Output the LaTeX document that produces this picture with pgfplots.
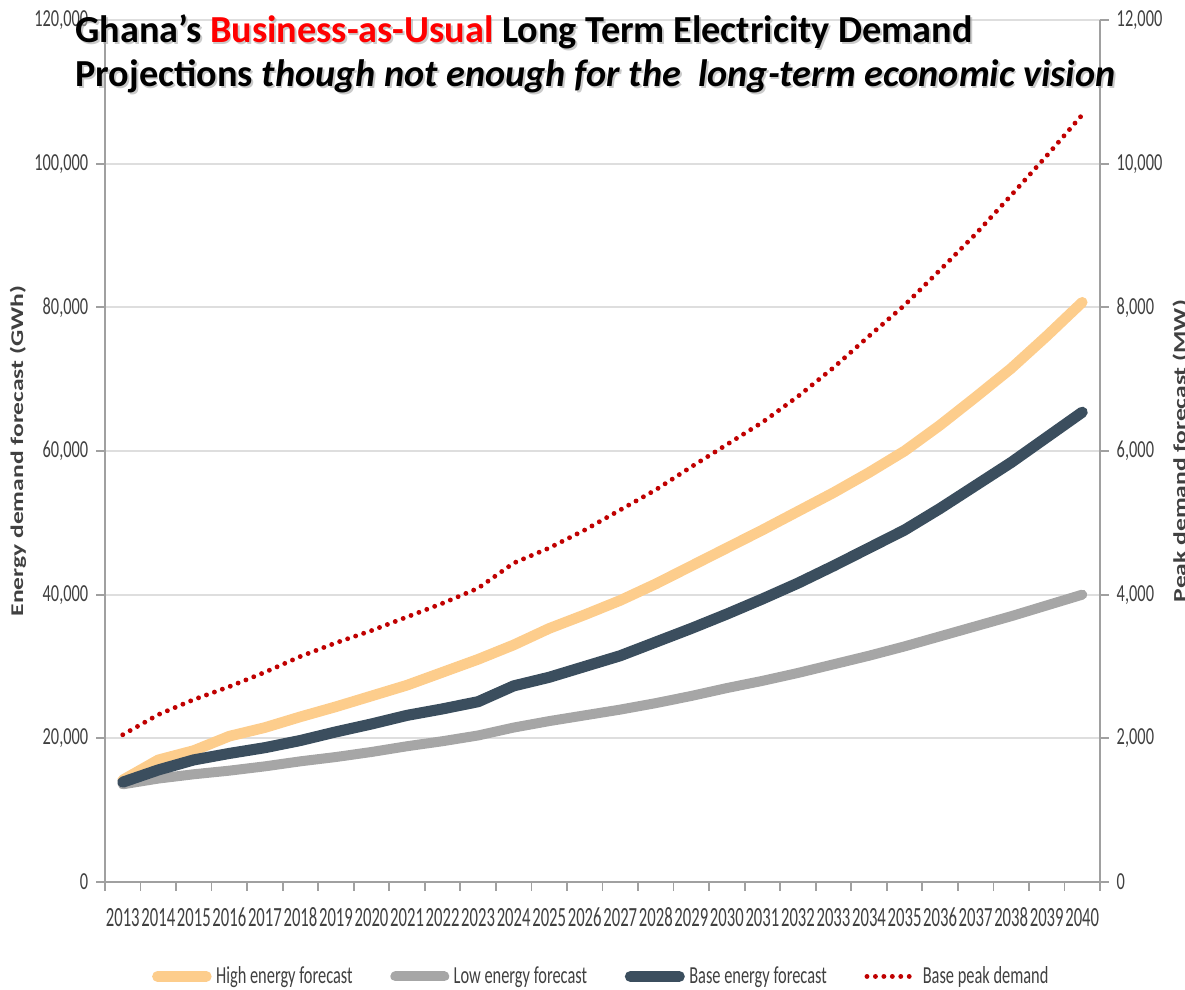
\documentclass[border=0pt]{standalone}
\usepackage{fontspec}
\usepackage{graphicx}
\usepackage{pgfplots}
\usepackage{pgfplotstable}
\pgfplotsset{compat=1.18}
\setmainfont{Carlito}
\newfontfamily\narrowfont[FakeStretch=0.67]{Carlito}
\newfontfamily\yearfont[FakeStretch=0.6]{Carlito}

\definecolor{highc}{RGB}{253,205,140}
\definecolor{lowc}{RGB}{166,166,166}
\definecolor{basec}{RGB}{59,78,94}
\definecolor{peakc}{RGB}{192,0,0}
\definecolor{gridc}{RGB}{222,222,222}
\definecolor{axisc}{RGB}{160,160,160}
\definecolor{labelc}{RGB}{64,64,64}
\definecolor{titlered}{RGB}{255,0,0}

% Energy demand forecasts (GWh) and base peak demand (MW), 2013-2040
\pgfplotstableread{
idx year high low base peak
0 2013 14200 13600 13900 2050
1 2014 17000 14400 15600 2330
2 2015 18300 15000 17000 2540
3 2016 20300 15500 17900 2720
4 2017 21500 16100 18700 2920
5 2018 23000 16800 19700 3140
6 2019 24400 17400 20900 3330
7 2020 25900 18100 22000 3500
8 2021 27400 18900 23200 3690
9 2022 29200 19600 24100 3880
10 2023 31000 20400 25100 4090
11 2024 33000 21500 27300 4440
12 2025 35300 22400 28500 4650
13 2026 37200 23200 30000 4900
14 2027 39200 24000 31500 5180
15 2028 41500 24900 33400 5460
16 2029 44000 25900 35300 5780
17 2030 46500 27000 37300 6090
18 2031 49000 28000 39400 6400
19 2032 51600 29100 41600 6760
20 2033 54200 30300 44000 7160
21 2034 57000 31500 46500 7600
22 2035 60000 32800 49000 8030
23 2036 63600 34200 52000 8520
24 2037 67500 35600 55200 9020
25 2038 71500 37000 58400 9560
26 2039 76000 38500 61900 10110
27 2040 80700 40000 65400 10680
}\demand

\newcommand{\ticksfont}{\narrowfont\fontsize{11}{13}\selectfont}
\newcommand{\yearsfont}{\yearfont\fontsize{12.5}{14}\selectfont}

\pgfplotsset{
  common/.style={
    scale only axis, width=447.75pt, height=387.9pt,
    xmin=-0.5, xmax=27.5, ymin=0,
    tick align=outside, major tick length=4pt,
    tick style={axisc, line width=0.8pt},
    axis line style={axisc, line width=0.8pt},
    ticklabel style={font=\ticksfont, text=labelc},
  },
  highstyle/.style={highc, line width=4.8pt, line cap=round, line join=round},
  lowstyle/.style={lowc, line width=4.5pt, line cap=round, line join=round},
  basestyle/.style={basec, line width=5pt, line cap=round, line join=round},
  peakstyle/.style={peakc, line width=2.2pt, line cap=round, dash pattern=on 0pt off 3.8pt},
}

\begin{document}
\begin{tikzpicture}
% energy axis (left)
\begin{axis}[common,
  ymax=120000,
  axis y line*=left, axis x line*=bottom,
  xtick={-0.5,0.5,...,27.5},
  x tick label as interval,
  xticklabels={2013,2014,2015,2016,2017,2018,2019,2020,2021,2022,2023,2024,2025,2026,2027,2028,2029,2030,2031,2032,2033,2034,2035,2036,2037,2038,2039,2040},
  xticklabel style={font=\yearsfont, text height=8pt, text depth=0pt, yshift=-4.5pt},
  ytick={0,20000,40000,60000,80000,100000,120000},
  yticklabels={0,{20,000},{40,000},{60,000},{80,000},{100,000},{120,000}},
  ymajorgrids, grid style={gridc, line width=0.8pt},
]
\addplot[highstyle] table[x=idx, y=high] {\demand};
\addplot[lowstyle] table[x=idx, y=low] {\demand};
\addplot[basestyle] table[x=idx, y=base] {\demand};
\end{axis}
% peak demand axis (right)
\begin{axis}[common,
  ymax=12000,
  axis y line*=right, axis x line=none,
  ytick={0,2000,4000,6000,8000,10000,12000},
  yticklabels={0,{2,000},{4,000},{6,000},{8,000},{10,000},{12,000}},
  legend columns=4,
  legend style={draw=none, fill=none, at={(0.5,0)}, yshift=-42.5pt, anchor=center,
    font=\ticksfont, text=labelc,
    /tikz/every odd column/.append style={column sep=0pt},
    /tikz/every even column/.append style={column sep=15pt}},
  legend image code/.code={\draw[#1] (0pt,0pt) -- (22pt,0pt);},
]
\addlegendimage{highstyle}
\addlegendentry{High energy forecast}
\addlegendimage{lowstyle}
\addlegendentry{Low energy forecast}
\addlegendimage{basestyle}
\addlegendentry{Base energy forecast}
\addplot[peakstyle] table[x=idx, y=peak] {\demand};
\addlegendentry{Base peak demand}
\end{axis}

% axis titles
\node[rotate=90, text=labelc, font=\bfseries\fontsize{11.5}{13}\selectfont] at (-39.15pt,193.95pt)
  {\scalebox{1}[0.7]{Energy demand forecast (GWh)}};
\node[rotate=90, text=labelc, font=\bfseries\fontsize{11.5}{13}\selectfont] at (484pt,193.95pt)
  {\scalebox{1}[0.7]{Peak demand forecast (MW)}};

% headline with a soft drop shadow
\newcommand{\lineone}[1]{Ghana’s {\color{#1}Business-as-Usual} Long Term Electricity Demand}
\newcommand{\linetwo}{Projections \textit{though not enough for the\ \ long-term economic vision}}
\begin{scope}[font=\bfseries\fontsize{17.2}{20}\selectfont]
  \node[anchor=base west, inner sep=0pt, text=black!35, opacity=0.6] at (-12.7pt,377pt) {\lineone{black!35}};
  \node[anchor=base west, inner sep=0pt, text=black!35, opacity=0.6] at (-12.7pt,357.2pt) {\linetwo};
  \node[anchor=base west, inner sep=0pt, text=black] at (-13.5pt,377.8pt) {\lineone{titlered}};
  \node[anchor=base west, inner sep=0pt, text=black] at (-13.5pt,358pt) {\linetwo};
\end{scope}

\pgfresetboundingbox
\useasboundingbox (-47.25pt,-48.15pt) rectangle (486pt,396.9pt);
\end{tikzpicture}
\end{document}
